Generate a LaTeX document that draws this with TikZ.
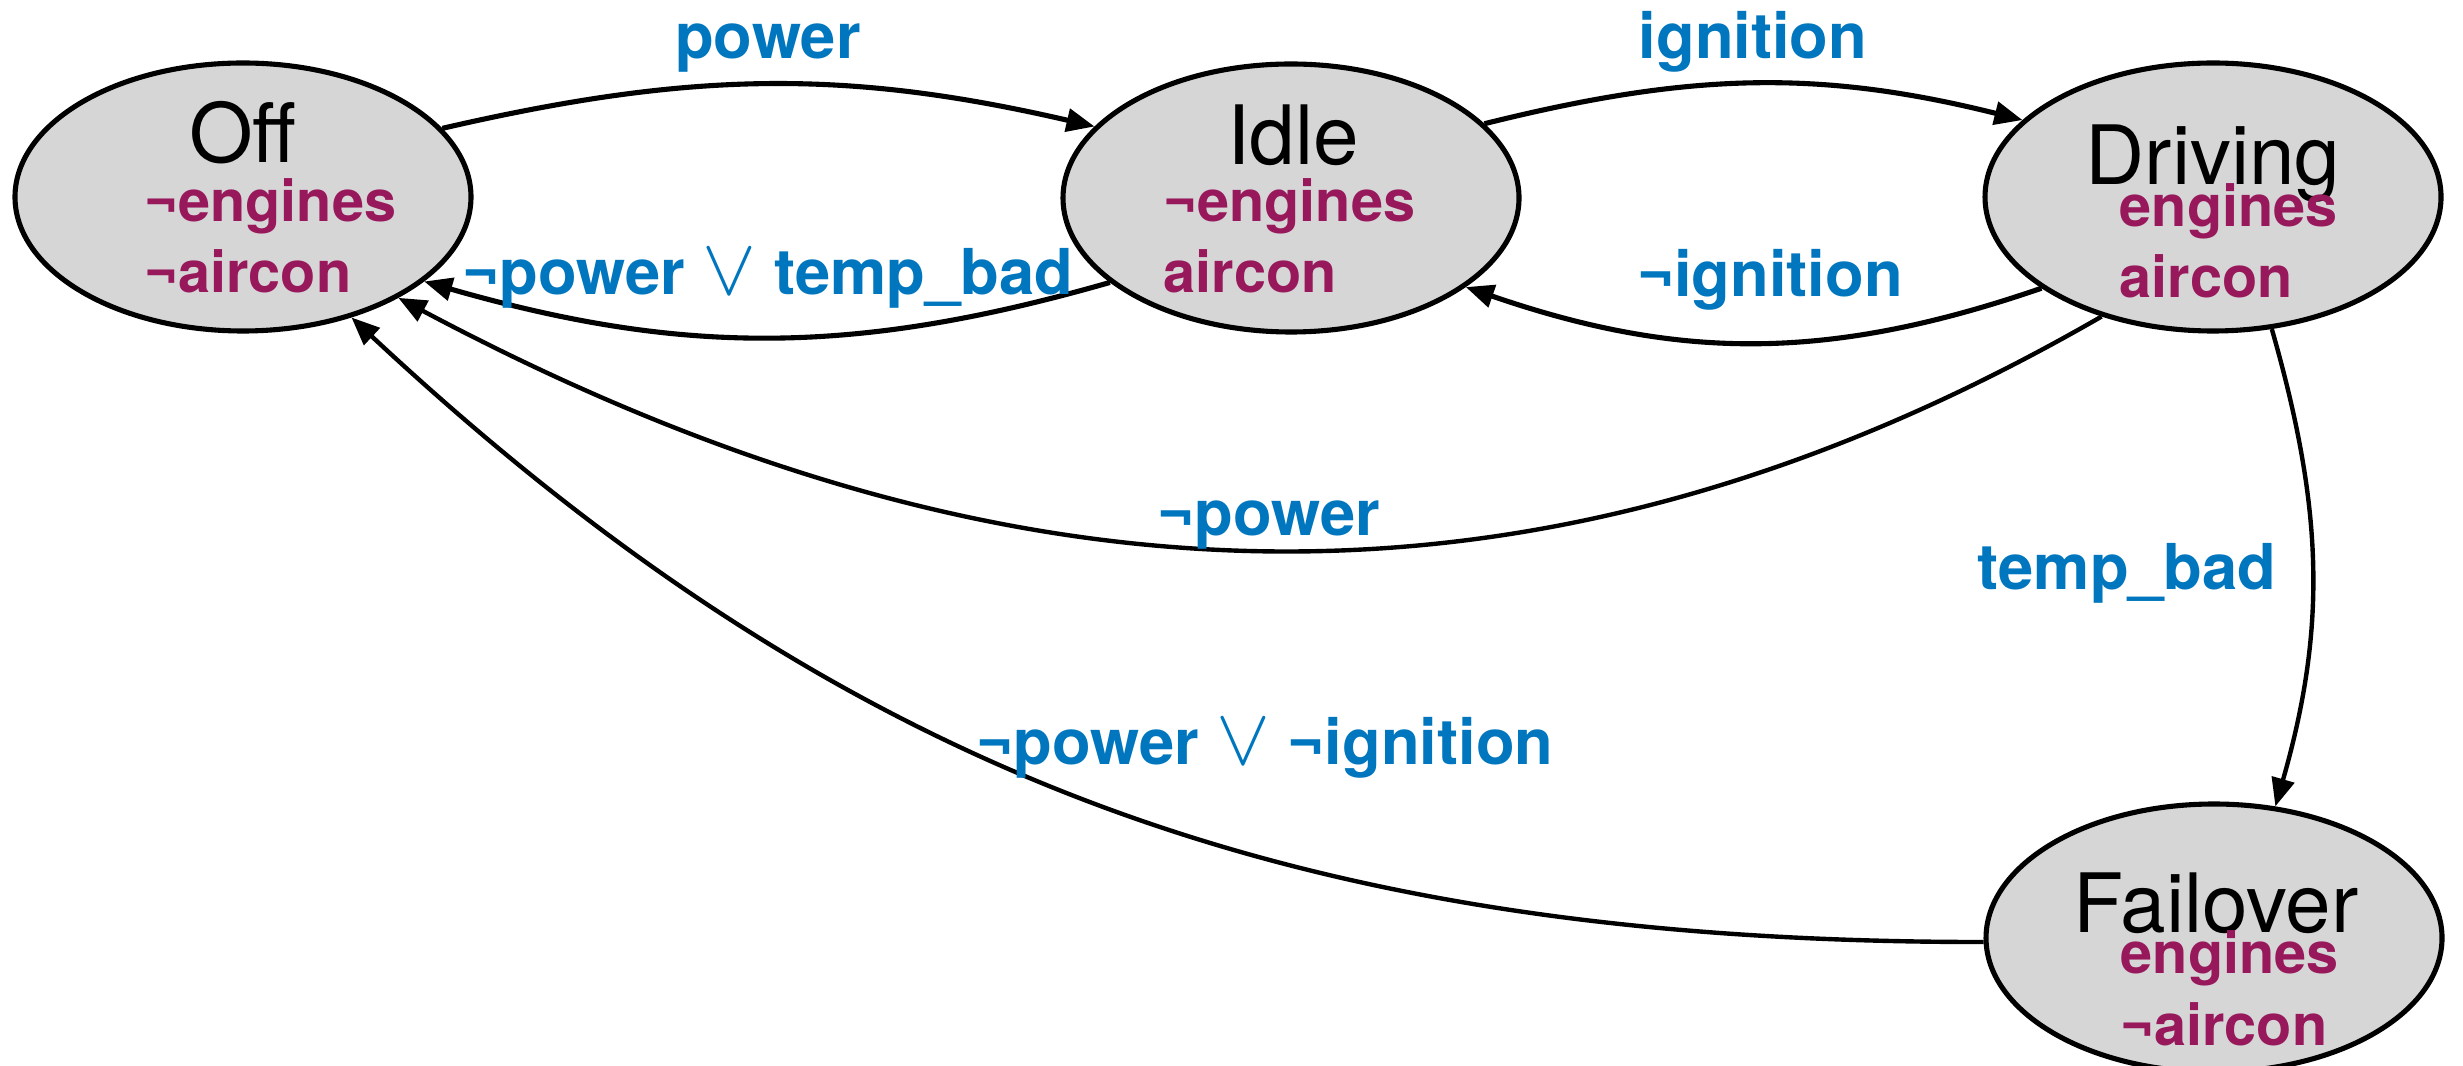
\documentclass[tikz,border=0pt]{standalone}
\usepackage{fontspec}
\setmainfont{TeX Gyre Heros}
\usetikzlibrary{shapes.geometric, arrows.meta}

\definecolor{guardBlue}{RGB}{0,118,190}
\definecolor{propPink}{RGB}{152,24,92}
\definecolor{stateGray}{RGB}{214,214,214}

\begin{document}
\begin{tikzpicture}[
        fsmState/.style={ellipse, draw, fill=stateGray, line width=1.45pt, minimum width=45.6mm, minimum height=26.8mm, inner sep=0pt},
        fsmTitle/.style={anchor=base, inner sep=0pt, font=\fontsize{23.3}{28}\selectfont},
        fsmProp/.style={anchor=base west, inner sep=0pt, text=propPink, font=\fontsize{16.4}{20}\selectfont\bfseries},
        fsmGuard/.style={anchor=base, inner sep=0pt, text=guardBlue, font=\fontsize{18}{22}\selectfont\bfseries},
        fsmEdge/.style={line width=1.45pt, -{Triangle[length=8pt, width=6.5pt]}}
    ]
        \useasboundingbox (0, 0) rectangle (24.63, -10.66);

        \node[fsmState] (off) at (2.43, -1.97) {};
        \node[fsmState] (idle) at (12.91, -1.98) {};
        \node[fsmState] (driving) at (22.13, -1.97) {};
        \node[fsmState] (failover) at (22.14, -9.38) {};

        \node[fsmTitle] (offTitle) at (2.43, -1.63) {Off};
        \node[fsmProp] (offEngines) at (1.44, -2.22) {¬engines};
        \node[fsmProp] (offAircon) at (1.44, -2.93) {¬aircon};
        \node[fsmTitle] (idleTitle) at (12.93, -1.65) {Idle};
        \node[fsmProp] (idleEngines) at (11.63, -2.22) {¬engines};
        \node[fsmProp] (idleAircon) at (11.63, -2.93) {aircon};
        \node[fsmTitle] (drivingTitle) at (22.13, -1.85) {Driving};
        \node[fsmProp] (drivingEngines) at (21.19, -2.27) {engines};
        \node[fsmProp] (drivingAircon) at (21.19, -2.98) {aircon};
        \node[fsmTitle] (failoverTitle) at (22.16, -9.32) {Failover};
        \node[fsmProp] (failoverEngines) at (21.20, -9.73) {engines};
        \node[fsmProp] (failoverAircon) at (21.20, -10.45) {¬aircon};

        \draw[fsmEdge] (off.19) to[out=13, in=167] (idle.160);
        \draw[fsmEdge] (idle.205) to[out=196, in=344] (off.335);
        \draw[fsmEdge] (idle.21) to[out=14, in=166] (driving.158);
        \draw[fsmEdge] (driving.208) to[out=199, in=341] (idle.333);
        \draw[fsmEdge, line width=1.25pt] (driving.227) to[out=210, in=332] (off.327);
        \draw[fsmEdge, line width=1.25pt] (driving.294) to[out=-74, in=74] (failover.65);
        \draw[fsmEdge, line width=1.25pt] (failover.181) to[out=180, in=317] (off.312);

        \node[fsmGuard] (guardPower) at (7.68, -0.59) {power};
        \node[fsmGuard] (guardOffA) at (7.68, -2.95) {¬power \scalebox{1.33}{$\vee$} temp\_bad};
        \node[fsmGuard] (guardIgnition) at (17.53, -0.59) {ignition};
        \node[fsmGuard] (guardNoIgnition) at (17.70, -2.97) {¬ignition};
        \node[fsmGuard] (guardNoPower) at (12.69, -5.35) {¬power};
        \node[fsmGuard] (guardTemp) at (21.27, -5.89) {temp\_bad};
        \node[fsmGuard] (guardOffB) at (12.65, -7.64) {¬power \scalebox{1.33}{$\vee$} ¬ignition};
    \end{tikzpicture}
\end{document}
